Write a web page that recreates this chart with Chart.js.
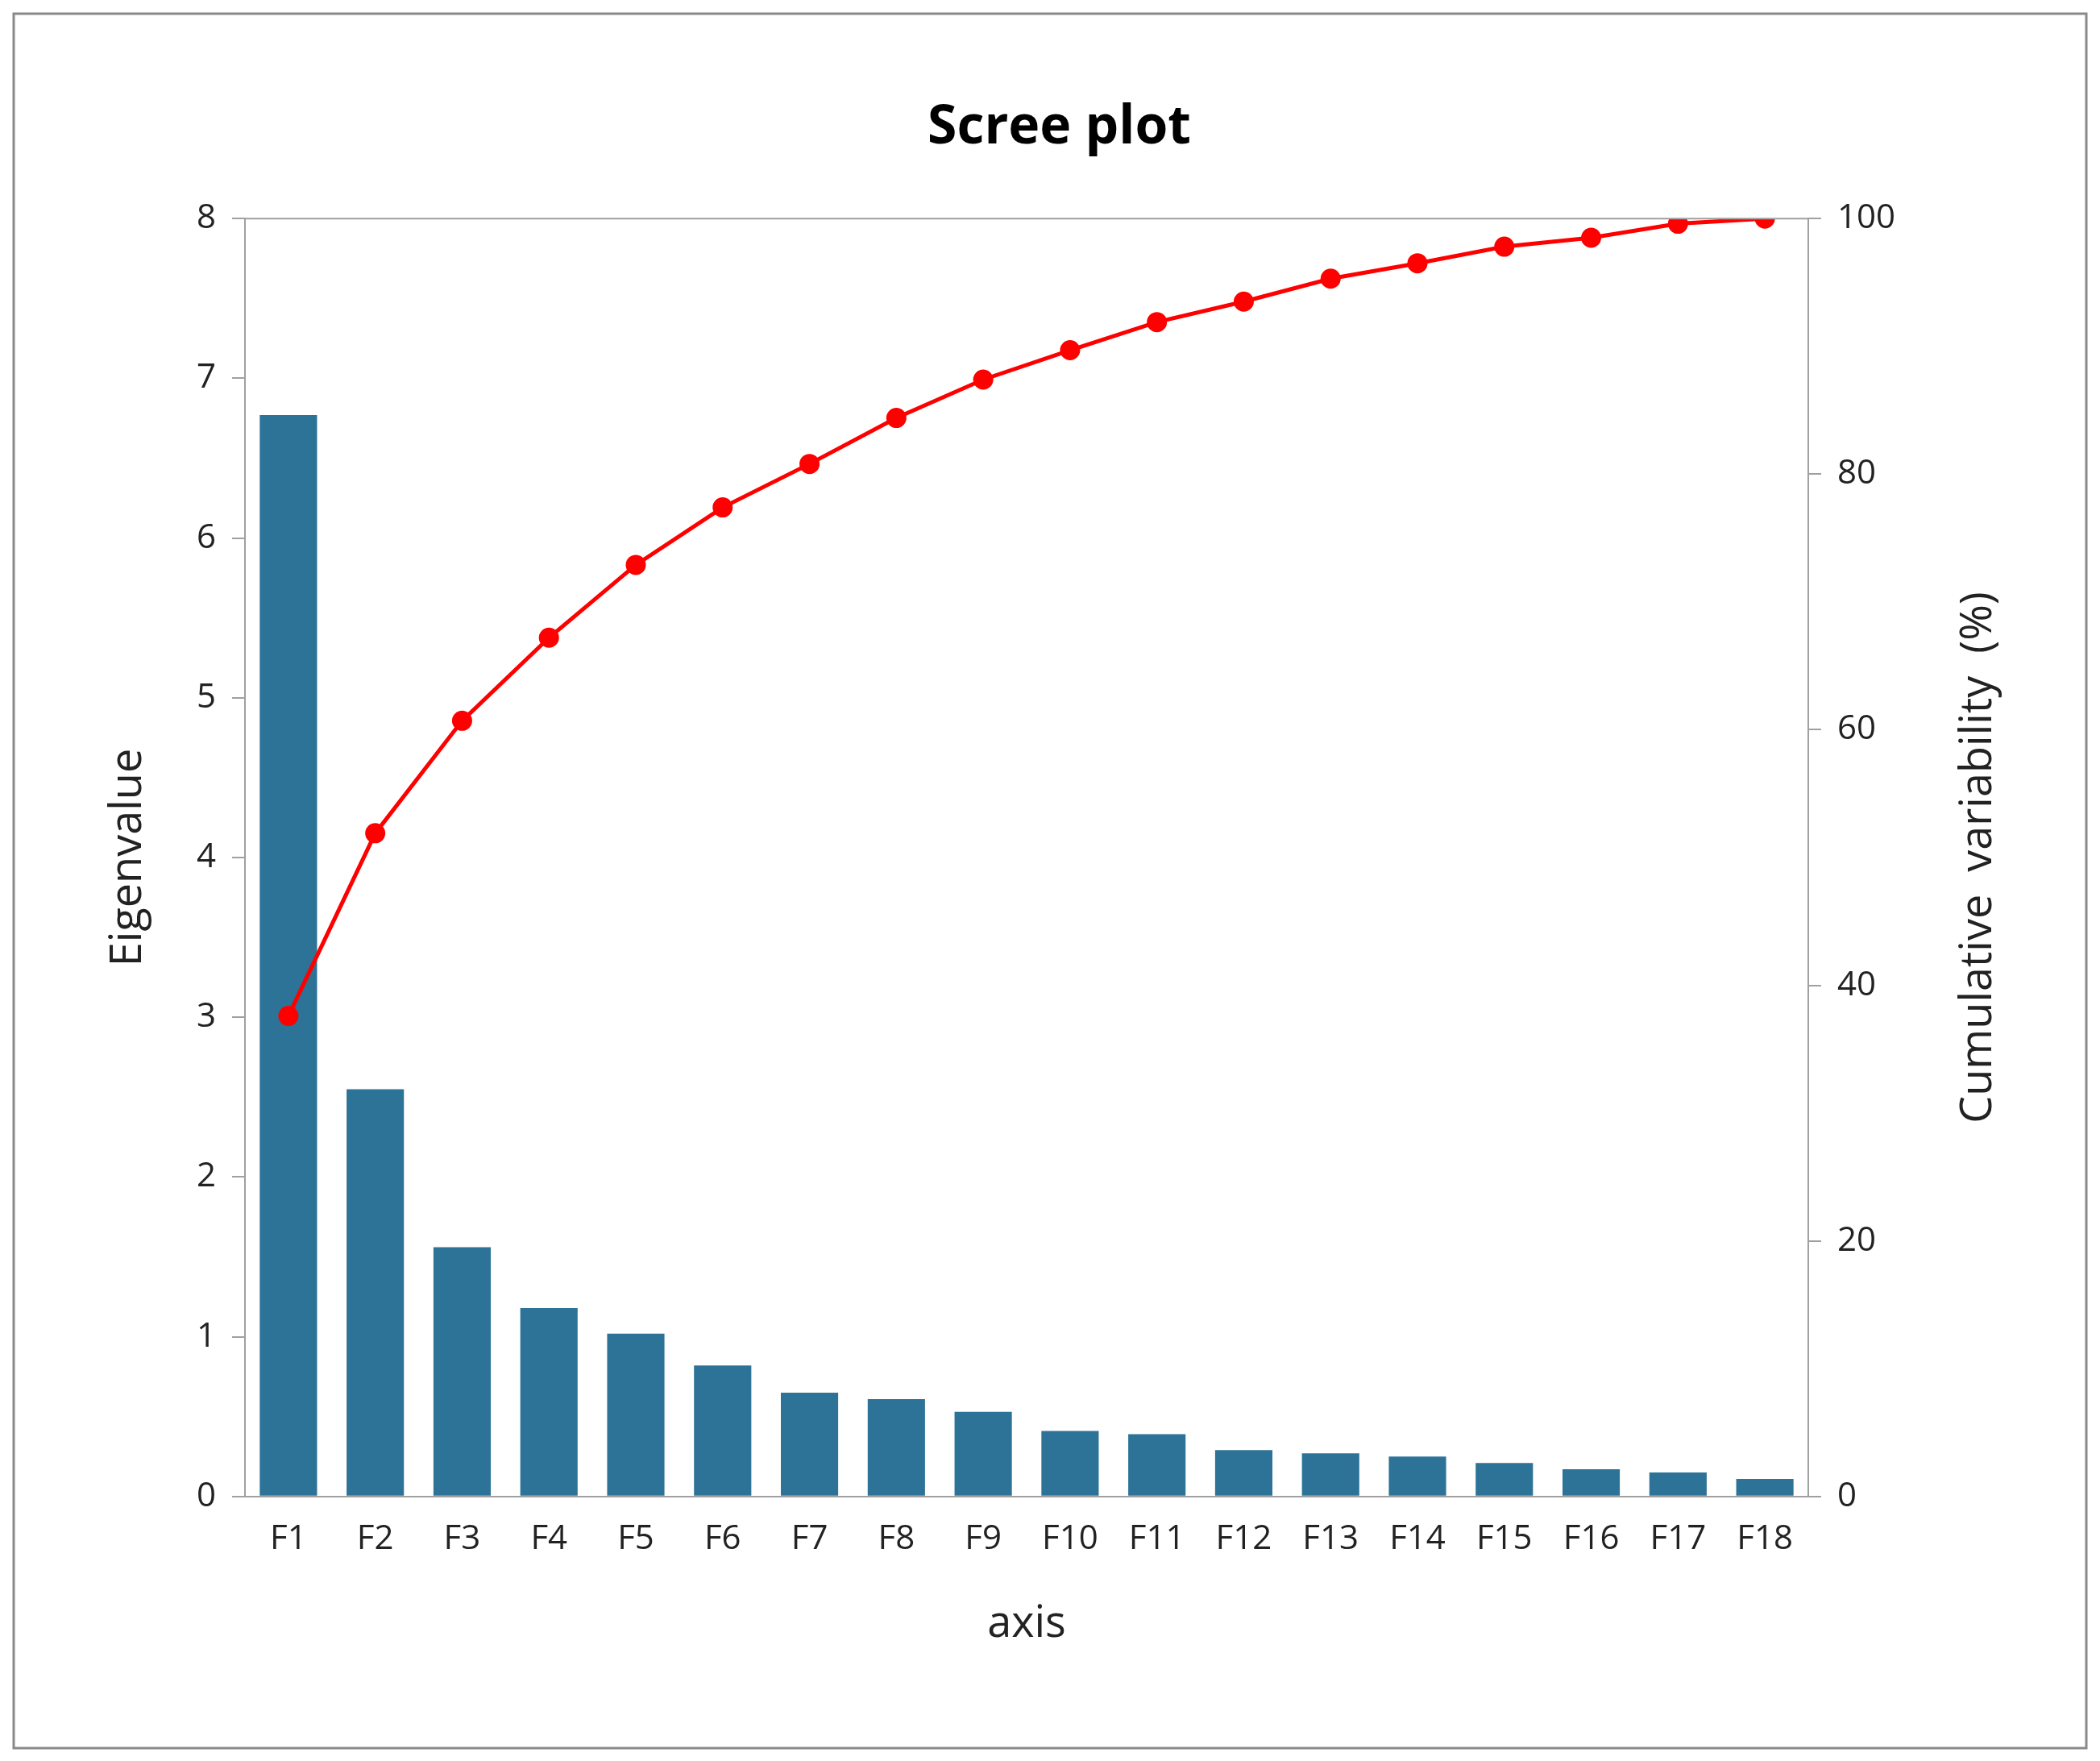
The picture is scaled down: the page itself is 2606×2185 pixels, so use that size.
<!DOCTYPE html>
<html><head><meta charset="utf-8">
<script src="https://cdn.jsdelivr.net/npm/chart.js@4"></script>
<style>html,body{margin:0;padding:0;background:#fff}#wrap{width:2606px;height:2185px}</style>
</head><body><div id="wrap"><canvas id="c"></canvas></div>
<script>
const categories=["F1","F2","F3","F4","F5","F6","F7","F8","F9","F10","F11","F12","F13","F14","F15","F16","F17","F18"];
const eigenvalues=[6.77,2.55,1.56,1.18,1.02,0.82,0.65,0.61,0.53,0.41,0.39,0.29,0.27,0.25,0.21,0.17,0.15,0.11];
const cumulative=[37.6,51.9,60.7,67.2,72.9,77.4,80.8,84.4,87.4,89.7,91.9,93.5,95.3,96.5,97.8,98.5,99.6,100];
const rightTitle='Cumulative  variability  (%)';
const FONT='"Open Sans", "Liberation Sans", sans-serif';
const frame={id:'frame',afterDraw(ch){const c=ch.ctx;c.save();c.strokeStyle='#8a8a8a';c.lineWidth=3;c.strokeRect(17,17,2572,2152);
const a=ch.chartArea;c.strokeStyle='#a0a0a0';c.lineWidth=2;c.beginPath();c.moveTo(a.left,a.top);c.lineTo(a.right,a.top);c.stroke();
c.translate(2456,(a.top+a.bottom)/2);c.rotate(-Math.PI/2);c.fillStyle='#222';c.font='54px '+FONT;c.textAlign='center';c.textBaseline='middle';c.fillText(rightTitle,0,0);
c.restore();}};
new Chart(document.getElementById('c'),{
data:{labels:categories,datasets:[
{type:'line',data:cumulative,yAxisID:'y2',borderColor:'#ff0000',backgroundColor:'#ff0000',borderWidth:5,pointRadius:10,pointHoverRadius:10,tension:0,order:0},
{type:'bar',data:eigenvalues,yAxisID:'y',backgroundColor:'#2c7397',categoryPercentage:0.66,barPercentage:1,order:1}]},
options:{responsive:true,maintainAspectRatio:false,animation:false,
layout:{padding:{left:123,right:100,top:120,bottom:133}},
plugins:{legend:{display:false},tooltip:{enabled:false},
title:{display:true,text:'Scree plot',color:'#000',font:{family:FONT,size:66,weight:'bold'},padding:{top:0,bottom:72}}},
scales:{
x:{grid:{display:true,drawOnChartArea:false,drawTicks:false,color:'#a0a0a0',lineWidth:2},border:{color:'#a0a0a0',width:2},
ticks:{color:'#222',font:{family:FONT,size:42},padding:28,maxRotation:0,autoSkip:false},
title:{display:true,text:'axis',color:'#222',font:{family:FONT,size:54},padding:{top:20}}},
y:{position:'left',min:0,max:8,grid:{drawOnChartArea:false,color:'#a0a0a0',lineWidth:2,tickLength:16},border:{color:'#a0a0a0',width:2},
ticks:{stepSize:1,color:'#222',font:{family:FONT,size:42},padding:20},
title:{display:true,text:'Eigenvalue',color:'#222',font:{family:FONT,size:54},padding:{bottom:20}},
afterFit(s){s.width=181;}},
y2:{position:'right',min:0,max:100,grid:{drawOnChartArea:false,color:'#a0a0a0',lineWidth:2,tickLength:16},border:{color:'#a0a0a0',width:2},
ticks:{stepSize:20,color:'#222',font:{family:FONT,size:42},padding:20},
title:{display:false},
afterFit(s){s.width=262;}}
}},plugins:[frame]});
</script></body></html>
